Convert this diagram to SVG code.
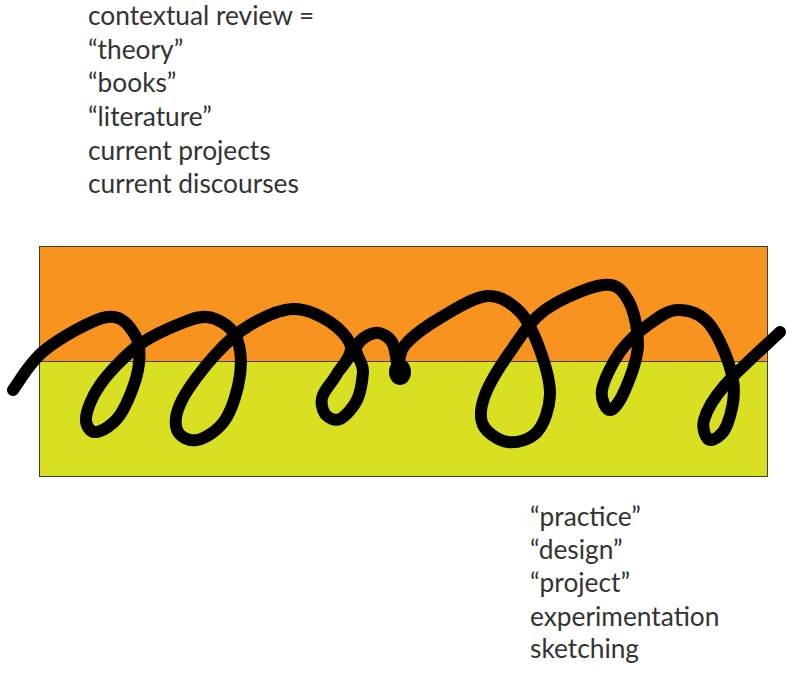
<svg xmlns="http://www.w3.org/2000/svg" width="794" height="676" viewBox="0 0 794 676">
<style>
.t{font-family:Lato,"Liberation Sans",sans-serif;font-size:26.3px;fill:#333333}
.band{stroke:#3f3f2a;stroke-width:1}
.sq{fill:none;stroke:#000;stroke-width:12;stroke-linecap:round;stroke-linejoin:round}
</style>
<rect width="794" height="676" fill="#ffffff"/>
<g id="theory-band">
<rect class="band" x="39.5" y="246.5" width="728" height="115" fill="#F7931E"/>
</g>
<g id="practice-band">
<rect class="band" x="39.5" y="361.5" width="728" height="115" fill="#D9E021"/>
</g>
<g id="squiggle">
<path class="sq" d="M13,390 C18.3,383.3 29.3,362.2 45,350 C60.7,337.8 92,319.5 107,317 C122,314.5 129.8,326.2 135,335 C140.2,343.8 140.5,356.7 138,370 C135.5,383.3 127,404.7 120,415 C113,425.3 101.7,431.5 96,432 C90.3,432.5 85.3,425.8 86,418 C86.7,410.2 91.8,396.7 100,385 C108.2,373.3 123.3,357.5 135,348 C146.7,338.5 158,333.2 170,328 C182,322.8 196.2,315.8 207,317 C217.8,318.2 229.5,325.3 235,335 C240.5,344.7 241.7,360.8 240,375 C238.3,389.2 232.2,409.2 225,420 C217.8,430.8 205,438.3 197,440 C189,441.7 179.5,436.7 177,430 C174.5,423.3 175.7,412.5 182,400 C188.3,387.5 203.7,367.5 215,355 C226.3,342.5 237,332.7 250,325 C263,317.3 279.7,309.5 293,309 C306.3,308.5 320.8,316 330,322 C339.2,328 349,338 351,347 C352,356 344,364 338,372 C334,380.3 326,388 323,395 C320,402 322.3,410 325,414 C328.7,418 334.8,421.3 340,419 C345.2,416.7 353.2,407.8 357,400 C360.8,392.2 362.3,380.7 363,372 C363.7,363.3 356,357 356,349 C357,341 368,334 375,333 C380.2,332 388.2,335.8 392,342 C395.8,348.2 397,365.3 398,370"/>
<path class="sq" d="M398,370 C399.3,365.8 397.8,353.7 405,345 C412.2,336.3 426.3,326.2 440,318 C453.7,309.8 473.7,297 487,296 C500.3,295 511.2,303 520,312 C528.8,321 535,336.2 540,350 C545,363.8 550.5,381.3 550,395 C549.5,408.7 544,424.2 537,432 C530,439.8 517,443.2 508,442 C499,440.8 486.8,432.8 483,425 C479.2,417.2 480.5,407.2 485,395 C489.5,382.8 500,366.2 510,352 C520,337.8 529.5,321.2 545,310 C560.5,298.8 589.2,286.7 603,285 C616.8,283.3 622.2,290 628,300 C633.8,310 638.5,330 638,345 C637.5,360 629.7,379.2 625,390 C620.3,400.8 613.8,410 610,410 C606.2,410 600.3,399.7 602,390 C603.7,380.3 612.3,362.8 620,352 C627.7,341.2 638.3,332 648,325 C657.7,318 667.7,310 678,310 C688.3,310 700.8,313.3 710,325 C719.2,336.7 730.2,363.3 733,380 C735.8,396.7 730.8,415 727,425 C723.2,435 713.8,440.8 710,440 C706.2,439.2 701.5,429.2 704,420 C706.5,410.8 712.3,399.7 725,385 C737.7,370.3 770.8,340.8 780,332"/>
<ellipse cx="400" cy="372" rx="11" ry="13" fill="#000"/>
</g>
<g id="theory-label">
<text class="t" x="88" y="25">contextual review =</text>
<text class="t" x="88" y="59">“theory”</text>
<text class="t" x="88" y="92">“books”</text>
<text class="t" x="88" y="126">“literature”</text>
<text class="t" x="88" y="160">current projects</text>
<text class="t" x="88" y="193">current discourses</text>
</g>
<g id="practice-label">
<text class="t" x="530" y="526">“practice”</text>
<text class="t" x="530" y="559">“design”</text>
<text class="t" x="530" y="592">“project”</text>
<text class="t" x="530" y="626">experimentation</text>
<text class="t" x="530" y="658">sketching</text>
</g>
</svg>
